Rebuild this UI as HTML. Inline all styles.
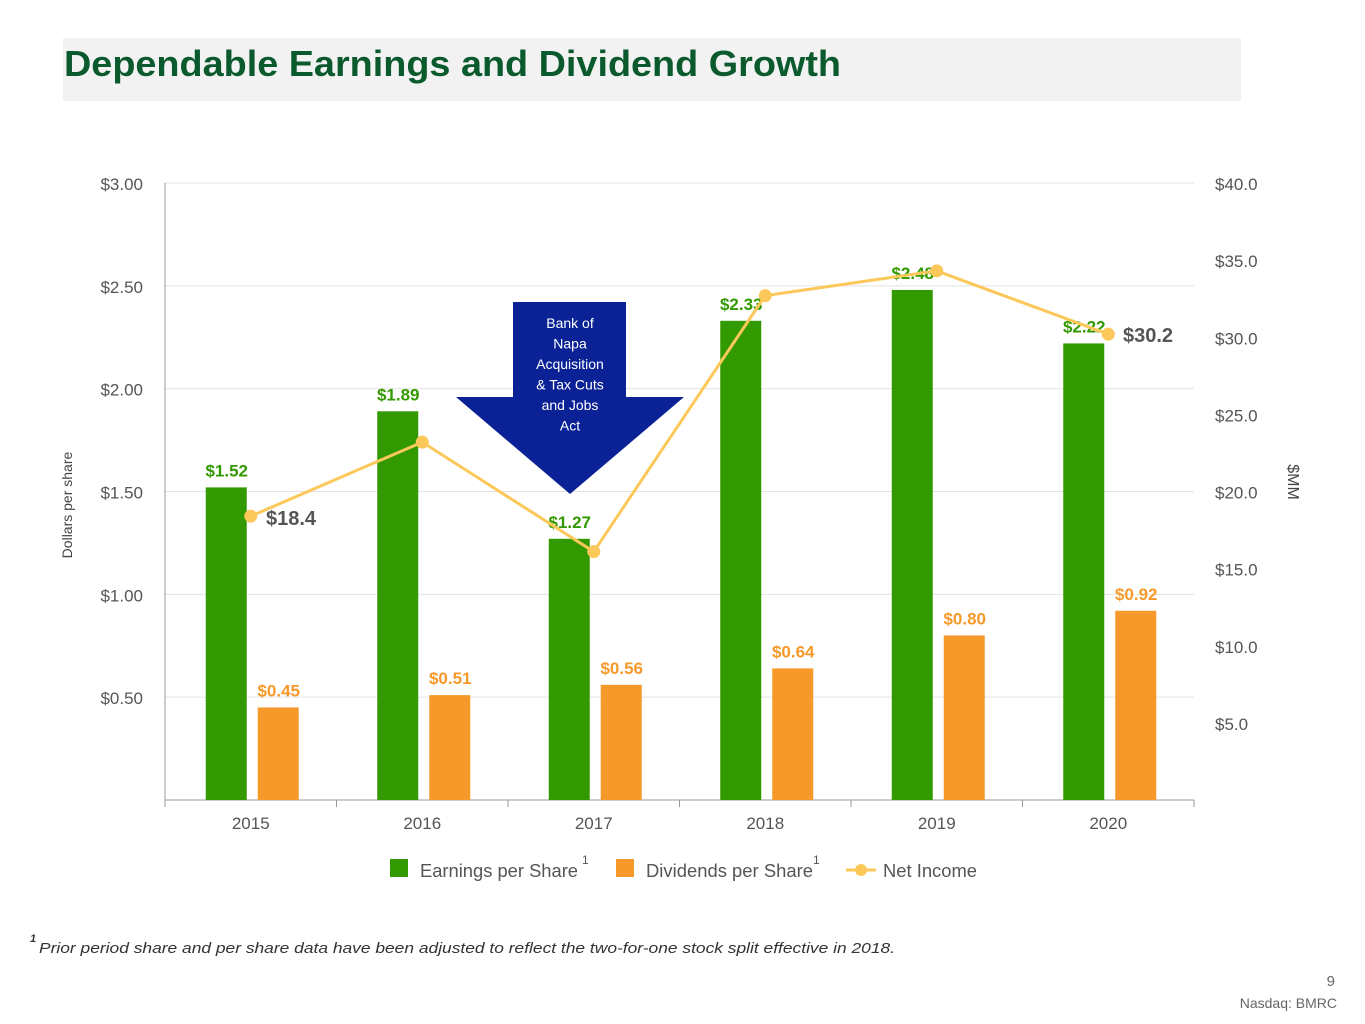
<!DOCTYPE html>
<html><head><meta charset="utf-8"><style>
body{margin:0;width:1365px;height:1024px;background:#fff;overflow:hidden;font-family:"Liberation Sans",sans-serif}
svg{position:absolute;left:0;top:0}
</style></head><body>
<svg id="c" width="1365" height="1024"></svg>
<script>
const years=["2015","2016","2017","2018","2019","2020"];
const eps=[1.52,1.89,1.27,2.33,2.48,2.22];
const dps=[0.45,0.51,0.56,0.64,0.80,0.92];
const netIncome=[18.4,23.2,16.1,32.7,34.3,30.2];
const leftTicks=[0.5,1.0,1.5,2.0,2.5,3.0];
const rightTicks=[5,10,15,20,25,30,35,40];
const NS="http://www.w3.org/2000/svg";
const svg=document.getElementById('c');
function el(t,a,txt){const e=document.createElementNS(NS,t);for(const k in a)e.setAttribute(k,a[k]);if(txt!=null)e.textContent=txt;svg.appendChild(e);return e;}
const X0=165,X1=1194,Y0=800,Y1=183;
const yL=v=>Y0-(v/3)*(Y0-Y1);
const yR=v=>Y0-(v/40)*(Y0-Y1);
const bw=(X1-X0)/years.length;
const xc=i=>X0+bw*(i+0.5);
let e;
e=el('rect',{x:63,y:38,width:1178,height:63,fill:'#f2f2f2'});

e=el('text',{x:64,y:76,'font-size':36,'font-weight':'bold',fill:'#0b5a2e',textLength:777,lengthAdjust:'spacingAndGlyphs'},'Dependable Earnings and Dividend Growth');

leftTicks.forEach(v=>{
 e=el('line',{x1:X0,x2:X1,y1:yL(v),y2:yL(v),stroke:'#e3e3e3'});
 
 e=el('text',{x:143,y:yL(v)+7,'font-size':17,fill:'#555','text-anchor':'end'},'$'+v.toFixed(2));
 
});
rightTicks.forEach(v=>{
 e=el('text',{x:1215,y:yR(v)+7,'font-size':17,fill:'#555'},'$'+v.toFixed(1));
 
});
e=el('line',{x1:X0,x2:X0,y1:Y1,y2:Y0,stroke:'#999'});
e=el('line',{x1:X0,x2:X1,y1:Y0,y2:Y0,stroke:'#999'});
for(let i=0;i<=years.length;i++){e=el('line',{x1:X0+bw*i,x2:X0+bw*i,y1:Y0,y2:Y0+7,stroke:'#999'});}
e=el('text',{x:72,y:505,'font-size':14,fill:'#444','text-anchor':'middle',transform:'rotate(-90 72 505)'},'Dollars per share');

e=el('text',{x:1288,y:482,'font-size':16,fill:'#444','text-anchor':'middle',transform:'rotate(90 1288 482)'},'$MM');

years.forEach((y,i)=>{
 const c=xc(i);
 e=el('rect',{x:c-45,y:yL(eps[i]),width:41,height:Y0-yL(eps[i]),fill:'#339900'});
 
 e=el('text',{x:c-24,y:yL(eps[i])-11,'font-size':17,'font-weight':'bold',fill:'#339900','text-anchor':'middle'},'$'+eps[i].toFixed(2));
 
 e=el('rect',{x:c+7,y:yL(dps[i]),width:41,height:Y0-yL(dps[i]),fill:'#f7992a'});
 
 e=el('text',{x:c+28,y:yL(dps[i])-11,'font-size':17,'font-weight':'bold',fill:'#f7992a','text-anchor':'middle'},'$'+dps[i].toFixed(2));
 
 e=el('text',{x:c,y:829,'font-size':17,fill:'#555','text-anchor':'middle'},y);
 
});
e=el('polygon',{points:'513,302 626,302 626,397 684,397 570,494 456,397 513,397',fill:'#0a2296'});

['Bank of','Napa','Acquisition','& Tax Cuts','and Jobs','Act'].forEach((t,k)=>{
 e=el('text',{x:570,y:328+k*20.5,'font-size':14,fill:'#fff','text-anchor':'middle'},t);
 
});
e=el('polyline',{points:netIncome.map((v,i)=>xc(i)+','+yR(v)).join(' '),fill:'none',stroke:'#fcc85a','stroke-width':3});

netIncome.forEach((v,i)=>{
 e=el('circle',{cx:xc(i),cy:yR(v),r:6.5,fill:'#fcc85a'});
 
});
e=el('text',{x:266,y:yR(netIncome[0])+9,'font-size':20,'font-weight':'bold',fill:'#555'},'$'+netIncome[0].toFixed(1));

e=el('text',{x:1123,y:yR(netIncome[5])+8,'font-size':20,'font-weight':'bold',fill:'#555'},'$'+netIncome[5].toFixed(1));

e=el('rect',{x:390,y:859,width:18,height:18,fill:'#339900'});
e=el('text',{x:420,y:877,'font-size':18,fill:'#555',textLength:158,lengthAdjust:'spacingAndGlyphs'},'Earnings per Share');
e=el('text',{x:582,y:864,'font-size':12,fill:'#555'},'1');
e=el('rect',{x:616,y:859,width:18,height:18,fill:'#f7992a'});
e=el('text',{x:646,y:877,'font-size':18,fill:'#555',textLength:167,lengthAdjust:'spacingAndGlyphs'},'Dividends per Share');
e=el('text',{x:813,y:864,'font-size':12,fill:'#555'},'1');
e=el('line',{x1:846,x2:876,y1:870,y2:870,stroke:'#fcc85a','stroke-width':3});
e=el('circle',{cx:861,cy:870,r:6,fill:'#fcc85a'});
e=el('text',{x:883,y:877,'font-size':18,fill:'#555',textLength:94,lengthAdjust:'spacingAndGlyphs'},'Net Income');
e=el('text',{x:30,y:942,'font-size':11,'font-weight':'bold','font-style':'italic',fill:'#333'},'1');

e=el('text',{x:39,y:953,'font-size':15,'font-style':'italic',fill:'#333',textLength:856,lengthAdjust:'spacingAndGlyphs'},'Prior period share and per share data have been adjusted to reflect the two-for-one stock split effective in 2018.');

e=el('text',{x:1335,y:986,'font-size':15,fill:'#666','text-anchor':'end'},'9');
e=el('text',{x:1337,y:1008,'font-size':14,fill:'#666','text-anchor':'end'},'Nasdaq: BMRC');
</script>
</body></html>
